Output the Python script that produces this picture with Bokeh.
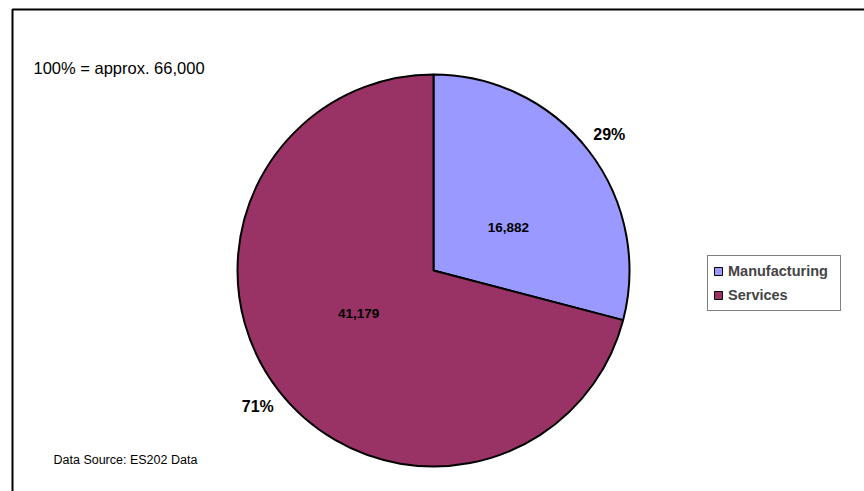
import math
from bokeh.plotting import figure
from bokeh.models import ColumnDataSource, Range1d, Legend, LegendItem
from bokeh.core.properties import value
from bokeh.embed import file_html
from bokeh.resources import INLINE

# ---- data ----
categories = ["Manufacturing", "Services"]
counts = [16882, 41179]
colors = ["#9999FF", "#993366"]
title_text = "100% = approx. 66,000"
source_text = "Data Source: ES202 Data"

# ---- layout constants ----
W, H = 864, 491
CX, CY = 433, H - 270
R = 196

total = sum(counts)
fracs = [c / total for c in counts]
starts, ends, mids = [], [], []
cum = 0.0
for f in fracs:
    a0 = math.pi / 2 - 2 * math.pi * (cum + f)
    a1 = math.pi / 2 - 2 * math.pi * cum
    starts.append(a0)
    ends.append(a1)
    mids.append((a0 + a1) / 2)
    cum += f

wedge_src = ColumnDataSource(dict(cat=categories, start=starts, end=ends, color=colors))

# percentage labels outside, value labels inside
pct_r = R + 26
pct_x = [CX + pct_r * math.cos(m) for m in mids]
pct_y = [CY + pct_r * math.sin(m) for m in mids]
pct_txt = [f"{round(100 * f)}%" for f in fracs]

val_r = 0.44 * R
val_off = math.radians(-8)
val_x = [CX + val_r * math.cos(m + val_off) for m in mids]
val_y = [CY + val_r * math.sin(m + val_off) for m in mids]
val_txt = [f"{c:,}" for c in counts]

p = figure(width=W, height=H, x_range=Range1d(0, W), y_range=Range1d(0, H),
           x_axis_type=None, y_axis_type=None, toolbar_location=None,
           output_backend="svg", min_border=0)
p.outline_line_color = None
p.grid.visible = False
p.background_fill_color = "white"

# chart frame (left and top edges)
p.line(x=[12, 12, W], y=[0, H - 9, H - 9], line_color="black", line_width=2)

p.wedge(x=CX, y=CY, radius=R, start_angle="start", end_angle="end",
        fill_color="color", line_color="black", line_width=2, source=wedge_src)

p.text(x=pct_x, y=pct_y, text=pct_txt, text_align="center", text_baseline="middle",
       text_font=value("Liberation Sans"), text_font_style="bold",
       text_font_size="16px", text_color="black")
p.text(x=val_x, y=val_y, text=val_txt, text_align="center", text_baseline="middle",
       text_font=value("Liberation Sans"), text_font_style="bold",
       text_font_size="13.5px", text_color="black")

p.text(x=[33], y=[H - 67], text=[title_text], text_align="left", text_baseline="alphabetic",
       text_font=value("Liberation Sans"), text_font_size="16.5px", text_color="black")
p.text(x=[53], y=[H - 459], text=[source_text], text_align="left", text_baseline="middle",
       text_font=value("Liberation Sans"), text_font_size="12.5px", text_color="black")

# legend (swatch renderers kept outside the visible range)
items = []
for cat, col in zip(categories, colors):
    r = p.rect(x=[-1000], y=[-1000], width=1, height=1, fill_color=col,
               line_color="black", line_width=1)
    items.append(LegendItem(label=cat, renderers=[r]))
legend = Legend(items=items, location=(707, H - 311), orientation="vertical",
                border_line_color="black", border_line_width=1, background_fill_color="white",
                background_fill_alpha=1, label_text_font="Liberation Sans",
                label_text_font_style="bold", label_text_font_size="14.5px",
                glyph_width=10, glyph_height=10, label_height=20, label_width=107,
                label_standoff=5, spacing=4, padding=5, margin=0)
p.add_layout(legend, "center")

open("out.html", "w").write(file_html(p, INLINE))
